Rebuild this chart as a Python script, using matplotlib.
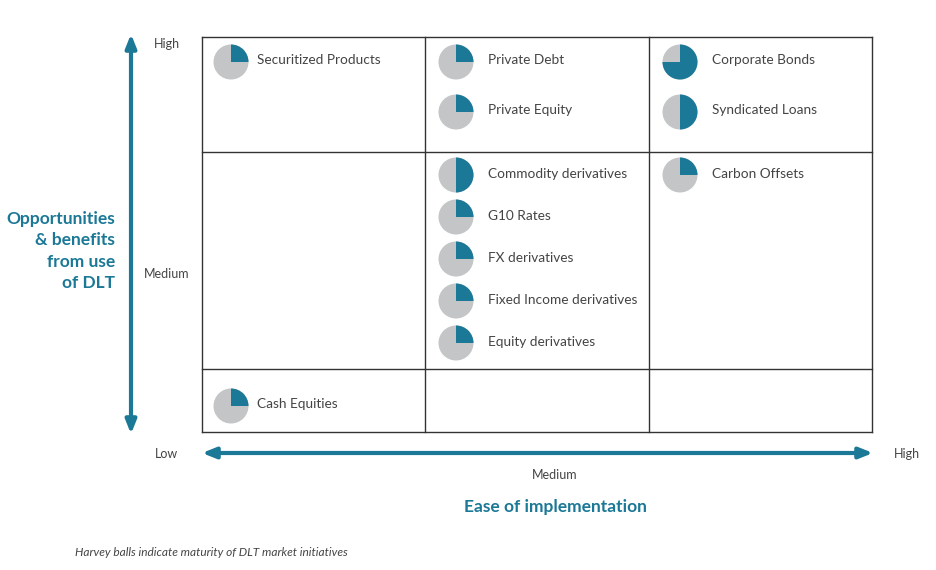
import matplotlib
matplotlib.use("Agg")
import matplotlib.pyplot as plt
from matplotlib.patches import Wedge, Circle

plt.rcParams['font.family'] = ['Lato', 'DejaVu Sans']

# Data: product, ease of implementation (0 low, 1 medium, 2 high),
# opportunity (0 low, 1 medium, 2 high), maturity (Harvey ball fill)
products = ["Securitized Products", "Private Debt", "Private Equity",
            "Corporate Bonds", "Syndicated Loans",
            "Commodity derivatives", "G10 Rates", "FX derivatives",
            "Fixed Income derivatives", "Equity derivatives",
            "Carbon Offsets", "Cash Equities"]
ease = [0, 1, 1, 2, 2, 1, 1, 1, 1, 1, 2, 0]
opportunity = [2, 2, 2, 2, 2, 1, 1, 1, 1, 1, 1, 0]
maturity = [0.25, 0.25, 0.25, 0.75, 0.5, 0.5, 0.25, 0.25, 0.25, 0.25, 0.25, 0.25]

level_labels = ["Low", "Medium", "High"]

TEAL = "#1b7896"
GREY = "#c3c5c7"
TEXT = "#444444"

# layout in pixels
col_edges = [202, 425, 649, 872]
ball_dx = [29, 31, 31]
text_dx = [55, 63, 63]
row_first = {2: 62, 1: 175, 0: 406}
row_step = {2: 50, 1: 42, 0: 42}
ball_r = 17.5

fig = plt.figure(figsize=(9.36, 5.70), dpi=100)
ax = fig.add_axes([0, 0, 1, 1])
ax.set_xlim(0, 936)
ax.set_ylim(570, 0)
ax.axis("off")

# grid
for x in col_edges:
    ax.plot([x, x], [37, 432], color="#333333", lw=1)
for y in [37, 152, 369, 432]:
    ax.plot([col_edges[0], col_edges[-1]], [y, y], color="#333333", lw=1)

# Harvey balls
slot = {}
for name, e, o, m in zip(products, ease, opportunity, maturity):
    k = slot.get((e, o), 0)
    slot[(e, o)] = k + 1
    cx = col_edges[e] + ball_dx[e]
    cy = row_first[o] + k * row_step[o]
    ax.add_patch(Circle((cx, cy), ball_r, color=GREY, lw=0))
    ax.add_patch(Wedge((cx, cy), ball_r, -90, -90 + 360 * m, color=TEAL, lw=0))
    ax.text(col_edges[e] + text_dx[e], cy - 1.5, name, fontsize=9.8, color=TEXT,
            va="center", ha="left")

# axes arrows
ax.annotate("", xy=(131, 34), xytext=(131, 434),
            arrowprops=dict(arrowstyle="<|-|>,head_length=0.8,head_width=0.32",
                            color=TEAL, lw=3, shrinkA=0, shrinkB=0))
ax.annotate("", xy=(202, 453), xytext=(873, 453),
            arrowprops=dict(arrowstyle="<|-|>,head_length=0.8,head_width=0.32",
                            color=TEAL, lw=3, shrinkA=0, shrinkB=0))

# level labels
ax.text(167, 44, level_labels[2], fontsize=9, color=TEXT, ha="center", va="center")
ax.text(167, 274, level_labels[1], fontsize=9, color=TEXT, ha="center", va="center")
ax.text(167, 454, level_labels[0], fontsize=9, color=TEXT, ha="center", va="center")
ax.text(907, 454, level_labels[2], fontsize=9, color=TEXT, ha="center", va="center")
ax.text(555, 475, level_labels[1], fontsize=9, color=TEXT, ha="center", va="center")

# titles
ax.text(115, 251, "Opportunities\n& benefits\nfrom use\nof DLT", fontsize=12.5,
        fontweight="bold", color=TEAL, ha="right", va="center", linespacing=1.42)
ax.text(555, 507, "Ease of implementation", fontsize=12.5, fontweight="bold",
        color=TEAL, ha="center", va="center")

ax.text(75, 553, "Harvey balls indicate maturity of DLT market initiatives",
        fontsize=8.6, style="italic", color=TEXT, ha="left", va="center")

fig.savefig("out.png", dpi=100)
